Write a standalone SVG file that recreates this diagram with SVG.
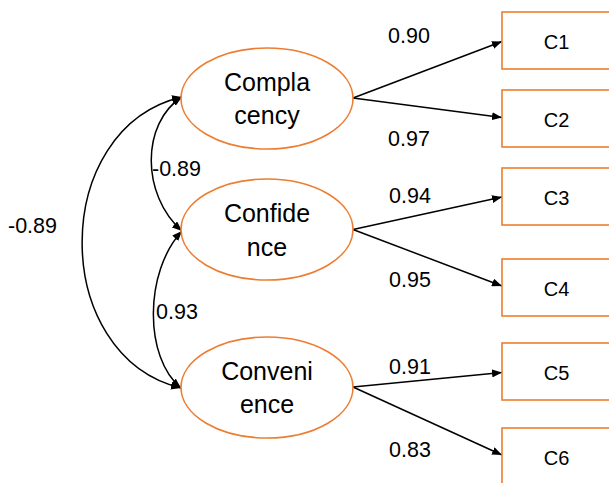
<svg xmlns="http://www.w3.org/2000/svg" width="609" height="483" viewBox="0 0 609 483">
<defs>
<marker id="ah" viewBox="0 0 10 8" refX="10" refY="4" markerWidth="10" markerHeight="8" markerUnits="userSpaceOnUse" orient="auto-start-reverse">
<path d="M0,0 L10,4 L0,8 z" fill="#000"/>
</marker>
<style>
.lat{fill:#fff;stroke:#ED7D31;stroke-width:1.6}
.obs{fill:#fff;stroke:#ED7D31;stroke-width:1.6}
.t{font-family:"Liberation Sans",Arial,sans-serif;fill:#000}
.lt{font-size:25px;text-anchor:middle}
.ot{font-size:20px;text-anchor:middle}
.nt{font-size:21.5px}
.c{fill:none;stroke:#000;stroke-width:1.5}
</style>
</defs>
<rect width="609" height="483" fill="#fff"/>
<g id="connectors">
<path class="c" d="M353,98 L502,41.5" marker-end="url(#ah)"/>
<path class="c" d="M353,98 L502,117.5" marker-end="url(#ah)"/>
<path class="c" d="M353,229.5 L502,197" marker-end="url(#ah)"/>
<path class="c" d="M353,229.5 L502,286" marker-end="url(#ah)"/>
<path class="c" d="M353,387 L502,372.5" marker-end="url(#ah)"/>
<path class="c" d="M353,387 L502,455" marker-end="url(#ah)"/>
<path class="c" d="M182,97 C49,128 49,356 181,388" marker-start="url(#ah)" marker-end="url(#ah)"/>
<path class="c" d="M182,97 C141,123 141,195 182,231" marker-start="url(#ah)" marker-end="url(#ah)"/>
<path class="c" d="M182,231 C144,272 144,358 181,388" marker-start="url(#ah)" marker-end="url(#ah)"/>
</g>
<g id="complacency">
<ellipse class="lat" cx="267" cy="98.5" rx="86" ry="50.5"/>
<text class="t lt" x="267" y="91">Compla</text>
<text class="t lt" x="267" y="124">cency</text>
</g>
<g id="confidence">
<ellipse class="lat" cx="267" cy="229.5" rx="86" ry="50.5"/>
<text class="t lt" x="267" y="222">Confide</text>
<text class="t lt" x="267" y="256">nce</text>
</g>
<g id="convenience">
<ellipse class="lat" cx="267" cy="387.5" rx="86" ry="50.5"/>
<text class="t lt" x="267" y="380">Conveni</text>
<text class="t lt" x="267" y="413">ence</text>
</g>
<g id="C1"><rect class="obs" x="502" y="12" width="110" height="57"/><text class="t ot" x="556.5" y="48.5">C1</text></g>
<g id="C2"><rect class="obs" x="502" y="90" width="110" height="57"/><text class="t ot" x="556.5" y="126.5">C2</text></g>
<g id="C3"><rect class="obs" x="502" y="168" width="110" height="57"/><text class="t ot" x="556.5" y="204.5">C3</text></g>
<g id="C4"><rect class="obs" x="502" y="259" width="110" height="57"/><text class="t ot" x="556.5" y="295.5">C4</text></g>
<g id="C5"><rect class="obs" x="502" y="343" width="110" height="57"/><text class="t ot" x="556.5" y="379.5">C5</text></g>
<g id="C6"><rect class="obs" x="502" y="428" width="110" height="57"/><text class="t ot" x="556.5" y="464.5">C6</text></g>
<g id="labels">
<text class="t nt" x="388" y="43">0.90</text>
<text class="t nt" x="388" y="146">0.97</text>
<text class="t nt" x="389" y="203">0.94</text>
<text class="t nt" x="389" y="287">0.95</text>
<text class="t nt" x="389" y="374">0.91</text>
<text class="t nt" x="389" y="457">0.83</text>
<text class="t nt" x="152" y="176">-0.89</text>
<text class="t nt" x="8" y="233">-0.89</text>
<text class="t nt" x="156" y="319">0.93</text>
</g>
</svg>
